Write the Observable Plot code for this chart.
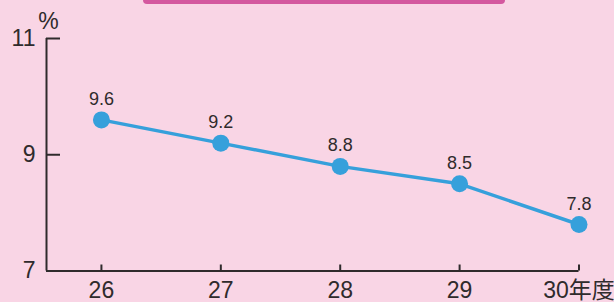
<!DOCTYPE html>
<html>
<head>
<meta charset="utf-8">
<script src="https://cdn.jsdelivr.net/npm/d3@7"></script>
<script src="https://cdn.jsdelivr.net/npm/@observablehq/plot@0.6"></script>
<style>
  html, body { margin: 0; padding: 0; background: #f9d5e5; }
  #wrap { position: relative; width: 614px; height: 302px; overflow: hidden; }
  #bar { position: absolute; left: 143px; top: 0; width: 362px; height: 4px; background: #d4589f; border-radius: 0 0 5px 5px; }
  svg { display: block; }
</style>
</head>
<body>
<div id="wrap"><div id="bar"></div></div>
<script>
const years = [26, 27, 28, 29, 30];
const rates = [9.6, 9.2, 8.8, 8.5, 7.8];
const yTicks = [7, 9, 11];
const xLabels = ["26", "27", "28", "29", "30年度"];
const yLabel = "%";
const xStart = 25.54;

const data = years.map((y, i) => ({year: y, rate: rates[i]}));
const blue = "#36a0db";
const ink = "#2f2b2c";
const font = '"Liberation Sans", Arial, "Noto Sans CJK JP", sans-serif';

const chart = Plot.plot({
  width: 614,
  height: 302,
  marginLeft: 46,
  marginRight: 35.5,
  marginTop: 38,
  marginBottom: 31.5,
  style: {background: "#f9d5e5", color: ink, fontFamily: font, overflow: "visible"},
  x: {domain: [xStart, 30], label: null},
  y: {domain: [7, 11], label: null},
  marks: [
    Plot.ruleX([xStart], {stroke: ink, strokeWidth: 2}),
    Plot.ruleY([7], {stroke: ink, strokeWidth: 2}),
    Plot.axisY({ticks: yTicks, tickSize: -14, strokeWidth: 2, tickFormat: () => "", label: null}),
    Plot.axisY({ticks: yTicks, tickSize: 0, tickPadding: 11, fontSize: 23, fill: ink, label: null,
      tickFormat: d => String(d)}),
    Plot.axisX({ticks: years, tickSize: -6, strokeWidth: 2, tickFormat: () => "", label: null}),
    Plot.axisX({ticks: years, tickSize: 0, tickPadding: 11, fontSize: 23, fill: ink, label: null,
      tickFormat: d => xLabels[years.indexOf(d)]}),
    Plot.text([yLabel], {frameAnchor: "top-left", dx: 2, dy: -10, lineAnchor: "bottom", textAnchor: "middle", fontSize: 23, fill: ink}),
    Plot.line(data, {x: "year", y: "rate", stroke: blue, strokeWidth: 3.5}),
    Plot.dot(data, {x: "year", y: "rate", r: 8.5, fill: blue}),
    Plot.text(data, {x: "year", y: "rate", text: d => d.rate.toFixed(1), dy: -15, lineAnchor: "bottom", fontSize: 18, fill: ink})
  ]
});
document.getElementById("wrap").appendChild(chart);
</script>
</body>
</html>
